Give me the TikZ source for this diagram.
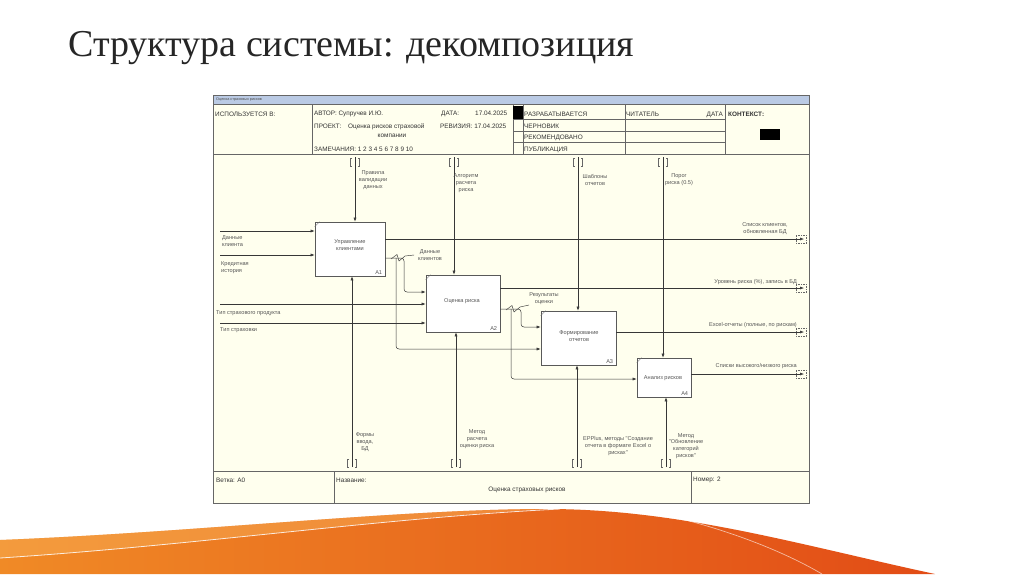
\documentclass[tikz,border=0pt]{standalone}
\usepackage{fontspec}
\setmainfont{Liberation Serif}
\newfontfamily\arialf{Liberation Sans}
\usetikzlibrary{arrows.meta,calc}
\definecolor{cream}{RGB}{255,255,238}
\definecolor{barblue}{RGB}{186,202,228}
\definecolor{txt}{RGB}{85,85,85}
\definecolor{lnc}{RGB}{55,55,55}
\definecolor{orA}{RGB}{240,138,38}
\definecolor{orB}{RGB}{238,112,18}
\definecolor{orC}{RGB}{226,76,22}
\definecolor{orL}{RGB}{247,172,84}
\newcommand\labfont{\arialf\fontsize{5.6}{6.9}\selectfont}
\newcommand\hdrfont{\arialf\fontsize{6.4}{7.5}\selectfont}
\tikzset{
  box/.style={draw=black!65, fill=white, line width=0.6pt, inner sep=0pt},
  arr/.style={draw=lnc, line width=0.5pt, -{Latex[length=4pt,width=3pt]}, rounded corners=3pt},
  ln/.style={draw=lnc, line width=0.45pt},
  lab/.style={font=\labfont, text=txt, align=center, inner sep=0pt},
  hdr/.style={font=\hdrfont, text=black!80, inner sep=0pt, anchor=base west},
  frm/.style={draw=black!60, line width=0.6pt},
  tun/.pic={\draw[black!60,line width=0.45pt] (-3,-4) -- (-4.5,-4) -- (-4.5,4) -- (-3,4) (3,-4) -- (4.5,-4) -- (4.5,4) -- (3,4);},
  outb/.pic={\draw[black!60,line width=0.45pt,dash pattern=on 1.5pt off 1pt] (-5,-4) rectangle (5,4);}
}
\begin{document}
\begin{tikzpicture}[x=1pt,y=-1pt]
\useasboundingbox[fill=white] (0,0) rectangle (1024,574);

% title
\node[anchor=base west, font=\fontsize{38}{42}\selectfont, text=black!85, inner sep=0pt] (title) at (68,56) {Структура системы: декомпозиция};

% frame
\fill[cream] (213,95) rectangle (809,503);
\fill[barblue] (213,95) rectangle (809,104);
\node[anchor=west, font=\arialf\fontsize{3.8}{4}\selectfont, text=black!70, inner sep=0pt] (bar) at (216,99.5) {Оценка страховых рисков};
\draw[frm] (213,95) rectangle (809,503);
\draw[frm] (213,104) -- (809,104);
\draw[frm] (213,154) -- (809,154);
\foreach \x in {312,513,523,625,725} \draw[frm] (\x,104) -- (\x,154);
\foreach \y in {119,131,142} \draw[frm] (513,\y) -- (725,\y);
\fill[black] (513,106) rectangle (523,119);
\fill[black] (760,129) rectangle (780,140);
\draw[frm] (213,471) -- (809,471);
\draw[frm] (334,471) -- (334,503);
\draw[frm] (691,471) -- (691,503);

% header texts
\node[hdr] (used) at (215,116) {ИСПОЛЬЗУЕТСЯ В:};
\node[hdr] (author) at (314,115) {АВТОР: Супручев И.Ю.};
\node[hdr] (date) at (441,115) {ДАТА:};
\node[hdr] (datev) at (475,115) {17.04.2025};
\node[hdr] (proj) at (314,128) {ПРОЕКТ:};
\node[hdr] (projv) at (348,128) {Оценка рисков страховой};
\node[hdr, anchor=base] (projv2) at (392,137) {компании};
\node[hdr] (rev) at (440,128) {РЕВИЗИЯ: 17.04.2025};
\node[hdr] (notes) at (314,151) {ЗАМЕЧАНИЯ: 1 2 3 4 5 6 7 8 9 10};
\node[hdr] (st1) at (524,116) {РАЗРАБАТЫВАЕТСЯ};
\node[hdr] (st2) at (524,128) {ЧЕРНОВИК};
\node[hdr] (st3) at (524,139.5) {РЕКОМЕНДОВАНО};
\node[hdr] (st4) at (524,151) {ПУБЛИКАЦИЯ};
\node[hdr] (reader) at (626,116) {ЧИТАТЕЛЬ};
\node[hdr, anchor=base east] (rdate) at (723,116) {ДАТА};
\node[hdr, font=\hdrfont\bfseries] (ctx) at (728,116) {КОНТЕКСТ:};

% footer texts
\node[hdr] (branch) at (216,482) {Ветка: А0};
\node[hdr] (nm) at (336,482) {Название:};
\node[hdr, anchor=base] (nmv) at (527,491) {Оценка страховых рисков};
\node[hdr] (num) at (693,481) {Номер: 2};

% boxes
\node[box, minimum width=70, minimum height=54] (A1) at (350,249) {};
\node[box, minimum width=74, minimum height=57] (A2) at (463,303.5) {};
\node[box, minimum width=75, minimum height=54] (A3) at (578.5,338) {};
\node[box, minimum width=54, minimum height=39] (A4) at (664,377.5) {};
\foreach \b in {A1,A2,A3,A4}{
  \draw[black!55, line width=0.4pt] (\b.north west) ++(0,5) -- ++(5,-5);
  \node[lab, anchor=south east] at ($(\b.south east)+(-3,-2)$) {\b};
}
\node[lab] (t1) at (350,245) {Управление\\клиентами};
\node[lab] (t2) at (462,301) {Оценка риска};
\node[lab] (t3) at (579,336) {Формирование\\отчетов};
\node[lab] (t4) at (663,378) {Анализ рисков};

% controls
\coordinate (c1) at (355,157);
\coordinate (c2) at (454,157);
\coordinate (c3) at (578,157);
\coordinate (c4) at (663,157);
\foreach \c in {c1,c2,c3,c4} \pic at ($(\c)+(0,5)$) {tun};
\draw[arr] (c1) -- (c1 |- A1.north);
\draw[arr] (c2) -- (c2 |- A2.north);
\draw[arr] (c3) -- (c3 |- A3.north);
\draw[arr] (c4) -- (c4 |- A4.north);
\node[lab] (lc1) at (373,180) {Правила\\валидации\\данных};
\node[lab] (lc2) at (466,183) {Алгоритм\\расчета\\риска};
\node[lab] (lc3) at (595,180) {Шаблоны\\отчетов};
\node[lab] (lc4) at (679,180) {Порог\\риска (0.5)};

% mechanisms
\coordinate (m1) at (352,467);
\coordinate (m2) at (456,467);
\coordinate (m3) at (577,467);
\coordinate (m4) at (666,467);
\foreach \m in {m1,m2,m3,m4} \pic at ($(\m)+(0,-4)$) {tun};
\draw[arr] (m1) -- (m1 |- A1.south);
\draw[arr] (m2) -- (m2 |- A2.south);
\draw[arr] (m3) -- (m3 |- A3.south);
\draw[arr] (m4) -- (m4 |- A4.south);
\node[lab] (lm1) at (365,442) {Формы\\ввода,\\БД};
\node[lab] (lm2) at (477,439) {Метод\\расчета\\оценки риска};
\node[lab] (lm3) at (618,446) {EPPlus, методы "Создание\\отчета в формате Excel о\\рисках"};
\node[lab] (lm4) at (686,446) {Метод\\"Обновление\\категорий\\рисков"};

% inputs
\coordinate (i1) at (220,231);
\coordinate (i2) at (220,255);
\coordinate (i3) at (220,304);
\coordinate (i4) at (220,323);
\draw[arr] (i1) -- (i1 -| A1.west);
\draw[arr] (i2) -- (i2 -| A1.west);
\draw[arr] (i3) -- (i3 -| A2.west);
\draw[arr] (i4) -- (i4 -| A2.west);
\node[lab, anchor=west, align=left] (li1) at (222,241) {Данные\\клиента};
\node[lab, anchor=west, align=left] (li2) at (221,268) {Кредитная\\история};
\node[lab, anchor=west] (li3) at (216,313) {Тип страхового продукта};
\node[lab, anchor=west] (li4) at (220,330.5) {Тип страховки};

% outputs
\coordinate (o1) at (804,239);
\coordinate (o2) at (804,288);
\coordinate (o3) at (804,332);
\coordinate (o4) at (804,374);
\foreach \o in {o1,o2,o3,o4} \pic at ($(\o)+(-3,0)$) {outb};
\draw[arr] (o1 -| A1.east) -- (o1);
\draw[arr] (o2 -| A2.east) -- (o2);
\draw[arr] (o3 -| A3.east) -- (o3);
\draw[arr] (o4 -| A4.east) -- (o4);
\node[lab] (lo1) at (765,229) {Список клиентов,\\обновленная БД};
\node[lab, anchor=east] (lo2) at (797,282) {Уровень риска (\%), запись в БД};
\node[lab, anchor=east] (lo3) at (797,325) {Excel-отчеты (полные, по рискам)};
\node[lab, anchor=east] (lo4) at (797,366.5) {Списки высокого/низкого риска};

% internal arrows
\draw[arr] (A1.east |- 0,258) -- (404,258) -- (404,292) -- (A2.west |- 0,292);
\draw[arr] (396,258) -- (396,349) -- (A3.west |- 0,349);
\draw[arr] (A2.east |- 0,309) -- (521,309) -- (521,327) -- (A3.west |- 0,327);
\draw[arr] (511,309) -- (511,379) -- (A4.west |- 0,379);
\draw[ln] (391,259) -- (397,254.5) -- (399,261) -- (405,256) -- (414,255);
\draw[ln] (506,310) -- (512,305.5) -- (514,312) -- (520,307) -- (529,305);
\node[lab] (ld1) at (430,255) {Данные\\клиентов};
\node[lab] (ld2) at (544,299) {Результаты\\оценки};

% orange wave
\shade[left color=orA, middle color=orB, right color=orC]
  (0,540) .. controls (200,532) and (400,509) .. (547,509)
  .. controls (680,509) and (800,545) .. (935,574) -- (0,574) -- cycle;
\fill[orL, opacity=0.5]
  (0,540) .. controls (200,532) and (400,509) .. (547,509)
  .. controls (380,518) and (200,545) .. (0,558) -- cycle;
\draw[white, line width=0.8pt, opacity=0.85] (0,558) .. controls (200,545) and (380,518) .. (560,509);
\draw[white, line width=0.7pt, opacity=0.6] (665,515) .. controls (735,531) and (790,555) .. (822,574);
\end{tikzpicture}
\end{document}
